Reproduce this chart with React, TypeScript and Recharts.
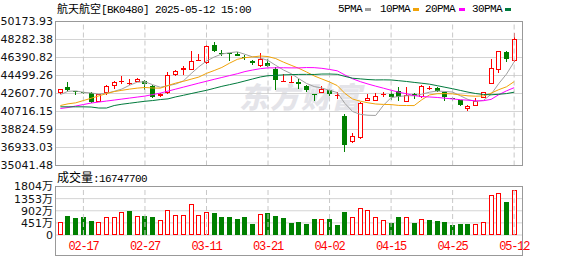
import React from 'react';
import { ComposedChart, Bar, Line, XAxis, YAxis, CartesianGrid, ReferenceLine } from 'recharts';

// trading days 2025-02-12 .. 2025-05-12
const dates = ['02-12', '02-13', '02-14', '02-17', '02-18', '02-19', '02-20', '02-21', '02-24', '02-25',
  '02-26', '02-27', '02-28', '03-03', '03-04', '03-05', '03-06', '03-07', '03-10', '03-11',
  '03-12', '03-13', '03-14', '03-17', '03-18', '03-19', '03-20', '03-21', '03-24', '03-25',
  '03-26', '03-27', '03-28', '03-31', '04-01', '04-02', '04-03', '04-07', '04-08', '04-09',
  '04-10', '04-11', '04-14', '04-15', '04-16', '04-17', '04-18', '04-21', '04-22', '04-23',
  '04-24', '04-25', '04-28', '04-29', '04-30', '05-06', '05-07', '05-08', '05-09', '05-12'];

const tickDates = ['02-17', '02-27', '03-11', '03-21', '04-02', '04-15', '04-25', '05-12'];

const opens = [42630, 43330, 42880, 42810, 42630, 41730, 42630, 43360, 43900, 43720,
  43852, 43957, 43434, 42316, 42628, 44510, 45033, 45106, 46080, 45763,
  47718, 46912, 46850, 46810, 46464, 46046, 45524, 45806, 45210, 43880,
  43840, 43852, 43400, 42597, 42702, 42984, 42470, 40226, 37550, 37968,
  41793, 41866, 42420, 42597, 42880, 41761, 42524, 42211, 43225, 43225,
  42733, 42180, 41897, 41000, 41343, 42148, 43611, 45106, 46987, 45973];
const highs = [43130, 43851, 42880, 42860, 42806, 42597, 43507, 43956, 44406, 44165,
  44238, 44030, 43507, 42670, 44824, 45053, 45450, 47091, 46777, 47687,
  48032, 47196, 46882, 46955, 46704, 46077, 46850, 46224, 45346, 44656,
  44406, 44134, 43507, 42597, 43434, 43088, 42806, 40476, 38418, 41688,
  42597, 42670, 42733, 42880, 43256, 43256, 42702, 43507, 43382, 43330,
  42806, 42253, 41970, 41416, 42127, 42806, 46224, 47091, 47091, 49003];
const lows = [42525, 42880, 42420, 42600, 41657, 41710, 42460, 43088, 43643, 43538,
  43778, 42943, 42107, 42253, 42597, 44450, 44583, 45032, 46077, 45700,
  46999, 46569, 45973, 46496, 46077, 45555, 45419, 45346, 43016, 43778,
  43690, 43088, 42806, 41793, 42702, 42357, 42044, 36505, 37445, 37863,
  41793, 41866, 42284, 41940, 41793, 41709, 42075, 42180, 43016, 42806,
  41835, 41793, 41343, 40790, 41343, 42106, 43570, 44761, 45868, 45941];
const closes = [43090, 42940, 42790, 42760, 41730, 42520, 43400, 43780, 43960, 43720,
  44130, 43610, 42253, 42597, 44552, 45000, 45280, 46046, 46150, 47613,
  47122, 46850, 46746, 46600, 46328, 45763, 46255, 45450, 44061, 43880,
  43840, 43610, 42940, 42420, 43120, 42597, 42470, 37195, 38177, 41626,
  42148, 42357, 42520, 42211, 42200, 42493, 42388, 43360, 43225, 42880,
  42253, 42080, 41416, 41270, 41866, 42775, 45283, 47060, 46224, 48313];

// volume in 万
const volumes = [493, 713, 634, 660, 528, 466, 651, 651, 871, 898,
  704, 713, 686, 546, 915, 730, 757, 1162, 730, 845,
  818, 686, 660, 581, 686, 396, 783, 818, 713, 616,
  449, 502, 396, 581, 607, 607, 370, 871, 678, 994,
  915, 651, 546, 449, 660, 651, 449, 607, 554, 528,
  502, 370, 396, 396, 396, 466, 1496, 1558, 1241, 1675];

const ma5 = [42493, 42840, 42880, 42733, 42662, 42548, 42640, 42838, 43078, 43476,
  43798, 43840, 43535, 43262, 43428, 43602, 43936, 44695, 45406, 46018,
  46442, 46756, 46896, 46986, 46729, 46457, 46338, 46079, 45571, 45082,
  44697, 44168, 43666, 43338, 43186, 42937, 42709, 41560, 40712, 40413,
  40323, 40301, 41366, 42172, 42298, 42367, 42373, 42541, 42744, 42869,
  42821, 42760, 42371, 41980, 41777, 41881, 42522, 43651, 44642, 45931];
const ma10 = [41344, 41521, 41626, 41866, 42107, 42357, 42598, 42807, 42943, 43069,
  43173, 43240, 43186, 43170, 43452, 43700, 43888, 44115, 44334, 44723,
  45022, 45346, 45796, 46196, 46374, 46450, 46547, 46488, 46279, 45906,
  45577, 45253, 44873, 44455, 44134, 43817, 43439, 42613, 42025, 41800,
  41630, 41505, 41463, 41442, 41355, 41345, 41337, 41953, 42458, 42584,
  42594, 42566, 42456, 42362, 42323, 42351, 42641, 43011, 43311, 43854];
const ma20 = [41030, 41134, 41291, 41448, 41605, 41709, 41814, 41918, 42023, 42127,
  42232, 42336, 42493, 42650, 42859, 43068, 43277, 43486, 43695, 43896,
  44098, 44293, 44491, 44683, 44913, 45075, 45218, 45301, 45306, 45314,
  45300, 45300, 45334, 45325, 45254, 45134, 44993, 44551, 44152, 43853,
  43604, 43379, 43168, 42948, 42745, 42581, 42388, 42283, 42242, 42192,
  42112, 42036, 41959, 41902, 41839, 41848, 41989, 42482, 42884, 43219];
const ma30 = [41208, 41208, 41208, 41208, 41187, 41082, 41082, 41344, 41480, 41584,
  41689, 41793, 41866, 41971, 42044, 42253, 42420, 42598, 42775, 42943,
  43151, 43360, 43538, 43716, 43925, 44134, 44343, 44478, 44510, 44566,
  44591, 44613, 44618, 44607, 44653, 44656, 44625, 44405, 44213, 44143,
  44077, 44035, 44044, 44031, 43954, 43871, 43774, 43685, 43587, 43430,
  43267, 43108, 42931, 42753, 42604, 42505, 42472, 42526, 42598, 42746];

const priceTicks = [35041.48, 36933.03, 38824.59, 40716.15, 42607.70, 44499.26, 46390.82, 48282.38, 50173.93];
const volTicks = [0, 451, 902, 1353, 1804];

const RED = '#ff0000';
const GREEN = '#008000';
const MONO = '"Liberation Mono", "DejaVu Sans Mono", monospace';
const CJK = '"Noto Sans CJK SC", sans-serif';
const AXIS_FONT = '"DejaVu Sans", "Noto Sans CJK SC", sans-serif';

const rows = dates.map((d, i) => ({
    date: d,
    range: [lows[i], highs[i]],
    open: opens[i],
    high: highs[i],
    low: lows[i],
    close: closes[i],
    vol: volumes[i],
    volUp: i === 0 ? closes[i] >= opens[i] : closes[i] > closes[i - 1],
    ma5: ma5[i],
    ma10: ma10[i],
    ma20: ma20[i],
    ma30: ma30[i],
}));

const Candle = (props: any) => {
    const { x, y, width, height, payload } = props;
    if (!payload) return null;
    const { open, close, high, low } = payload;
    const top = Math.min(y, y + height);
    const h = Math.abs(height);
    const span = high - low || 1;
    const py = (v: number) => top + ((high - v) / span) * h;
    const c = Math.floor(x + width / 2);
    const left = c - 2;
    const up = close >= open;
    const color = up ? RED : GREEN;
    const bodyTop = Math.round(py(Math.max(open, close)));
    const bodyBot = Math.round(py(Math.min(open, close)));
    const hiY = Math.round(py(high));
    const loY = Math.round(py(low));

    if (open === close || bodyBot - bodyTop < 2) {
        return (
            <g>
                <line x1={c + 0.5} x2={c + 0.5} y1={hiY} y2={loY} stroke={color} />
                <line x1={left} x2={left + 5} y1={bodyTop + 0.5} y2={bodyTop + 0.5} stroke={color} />
            </g>
        );
    }
    if (up) {
        return (
            <g>
                <line x1={c + 0.5} x2={c + 0.5} y1={hiY} y2={bodyTop} stroke={color} />
                <line x1={c + 0.5} x2={c + 0.5} y1={bodyBot} y2={loY} stroke={color} />
                <rect x={left + 0.5} y={bodyTop + 0.5} width={4} height={bodyBot - bodyTop - 1} fill="#fff" stroke={color} />
            </g>
        );
    }
    return (
        <g>
            <line x1={c + 0.5} x2={c + 0.5} y1={hiY} y2={loY} stroke={color} />
            <rect x={left} y={bodyTop} width={5} height={bodyBot - bodyTop} fill={color} />
        </g>
    );
};

const VolBar = (props: any) => {
    const { x, y, width, height, payload } = props;
    if (!payload) return null;
    const c = Math.floor(x + width / 2);
    const left = c - 2;
    const top = Math.round(Math.min(y, y + height));
    const bot = Math.round(Math.max(y, y + height));
    if (payload.volUp) {
        return <rect x={left + 0.5} y={top + 0.5} width={4} height={Math.max(bot - top - 1, 1)} fill="#fff" stroke={RED} />;
    }
    return <rect x={left} y={top} width={5} height={bot - top} fill={GREEN} />;
};

const legendItems = [
    { label: '5PMA', color: '#a0a0a0', tx: 338, sx: 365 },
    { label: '10PMA', color: '#f0a30a', tx: 380, sx: 413 },
    { label: '20PMA', color: '#ff00ff', tx: 425, sx: 459 },
    { label: '30PMA', color: '#007a3d', tx: 472, sx: 505 },
];

const abs = (left: number, top: number): React.CSSProperties => ({ position: 'absolute', left, top });

export default function App() {
    return (
        <div style={{ position: 'absolute', left: 0, top: 0, width: 578, height: 276, background: '#fff', overflow: 'hidden' }}>
            {/* watermark */}
            <div style={{ ...abs(239, 79), fontFamily: CJK, fontSize: 29, fontWeight: 900, fontStyle: 'italic', color: '#e4e4e9', letterSpacing: 2, lineHeight: '32px', whiteSpace: 'nowrap' }}>
                东方财富
            </div>

            {/* title */}
            <div style={{ ...abs(57, 2), lineHeight: '12px', whiteSpace: 'nowrap', color: '#000' }}>
                <span style={{ fontFamily: CJK, fontSize: 11 }}>航天航空</span>
                <span style={{ fontFamily: MONO, fontSize: 11, letterSpacing: -0.6 }}>[BK0480] 2025-05-12 15:00</span>
            </div>

            {/* legend */}
            {legendItems.map(it => (
                <React.Fragment key={it.label}>
                    <div style={{ ...abs(it.tx, 3), fontFamily: MONO, fontSize: 11, letterSpacing: -0.6, lineHeight: '12px', color: '#000' }}>{it.label}</div>
                    <div style={{ ...abs(it.sx, 8), width: 6, height: 3, background: it.color }} />
                </React.Fragment>
            ))}

            {/* price chart */}
            <div style={abs(0, 0)}>
                <ComposedChart width={578} height={276} data={rows} margin={{ top: 21.5, right: 56, bottom: 110.5, left: 0 }}>
                    <CartesianGrid vertical={false} stroke="#d4d4d4" />
                    <XAxis dataKey="date" hide padding={{ left: 0.5, right: 4 }} />
                    <YAxis
                        type="number"
                        domain={[priceTicks[0], priceTicks[priceTicks.length - 1]]}
                        ticks={priceTicks}
                        interval={0}
                        allowDataOverflow
                        width={56}
                        axisLine={false}
                        tickLine={false}
                        tickSize={0}
                        tickMargin={3}
                        tick={{ fontFamily: AXIS_FONT, fontSize: 11, fill: '#111' }}
                        tickFormatter={(v: number) => v.toFixed(2)}
                    />
                    {tickDates.map(d => (
                        <ReferenceLine key={d} x={d} stroke="#c8c8c8" strokeDasharray="5 3" />
                    ))}
                    <Bar dataKey="range" shape={(p: any) => <Candle {...p} />} isAnimationActive={false} />
                    <Line dataKey="ma5" stroke="#a0a0a0" strokeWidth={1} dot={false} activeDot={false} isAnimationActive={false} />
                    <Line dataKey="ma10" stroke="#f0a30a" strokeWidth={1} dot={false} activeDot={false} isAnimationActive={false} />
                    <Line dataKey="ma20" stroke="#ff00ff" strokeWidth={1} dot={false} activeDot={false} isAnimationActive={false} />
                    <Line dataKey="ma30" stroke="#007a3d" strokeWidth={1} dot={false} activeDot={false} isAnimationActive={false} />
                </ComposedChart>
            </div>

            {/* volume chart */}
            <div style={abs(0, 0)}>
                <ComposedChart width={578} height={276} data={rows} margin={{ top: 186.5, right: 56, bottom: 20.5, left: 0 }}>
                    <CartesianGrid vertical={false} stroke="#d4d4d4" />
                    <XAxis
                        dataKey="date"
                        padding={{ left: 0.5, right: 4 }}
                        ticks={tickDates}
                        interval={0}
                        axisLine={false}
                        tickLine={false}
                        tickSize={0}
                        tickMargin={6}
                        height={20.5}
                        tick={{ fontFamily: MONO, fontSize: 12, fill: RED, letterSpacing: -1.2 }}
                    />
                    <YAxis
                        type="number"
                        domain={[0, 1804]}
                        ticks={volTicks}
                        interval={0}
                        allowDataOverflow
                        width={56}
                        axisLine={false}
                        tickLine={false}
                        tickSize={0}
                        tickMargin={3}
                        tick={{ fontFamily: AXIS_FONT, fontSize: 11, fill: '#111' }}
                        tickFormatter={(v: number) => (v === 0 ? '0' : `${v}万`)}
                    />
                    {tickDates.map(d => (
                        <ReferenceLine key={d} x={d} stroke="#c8c8c8" strokeDasharray="5 3" />
                    ))}
                    <Bar dataKey="vol" shape={(p: any) => <VolBar {...p} />} isAnimationActive={false} />
                </ComposedChart>
            </div>

            {/* frames */}
            <div style={{ ...abs(55, 21), width: 468, height: 145, border: '1px solid #999', boxSizing: 'border-box' }} />
            <div style={{ ...abs(55, 186), width: 468, height: 70, border: '1px solid #999', boxSizing: 'border-box' }} />

            {/* volume caption */}
            <div style={{ ...abs(57, 170), lineHeight: '13px', whiteSpace: 'nowrap', color: '#000' }}>
                <span style={{ fontFamily: CJK, fontSize: 12 }}>成交量</span>
                <span style={{ fontFamily: MONO, fontSize: 11, letterSpacing: -0.6 }}>:16747700</span>
            </div>
        </div>
    );
}
